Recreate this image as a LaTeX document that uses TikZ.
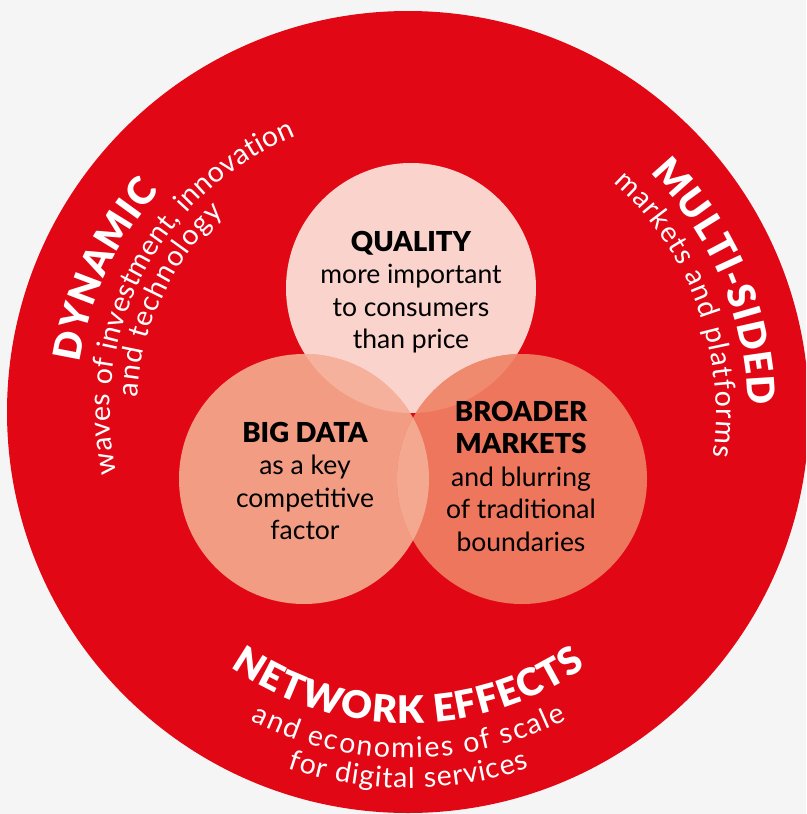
\documentclass[tikz,border=0pt]{standalone}
\usepackage{fontspec}
\setmainfont{Lato}
\newfontfamily\heavyfont{Lato Black}
\usepackage{xcolor}
\usepackage{tikz}
\usetikzlibrary{positioning,decorations.text}
\definecolor{paper}{HTML}{F5F5F5}
\definecolor{mainred}{HTML}{E20714}
\definecolor{qualfill}{HTML}{F9D3CC}
\definecolor{datafill}{HTML}{F29C84}
\definecolor{mktfill}{HTML}{EE765D}
\definecolor{qdfill}{HTML}{F5B19B}
\definecolor{qmfill}{HTML}{F08A6E}
\definecolor{dmfill}{HTML}{F5A890}
\newcommand\circhead{\fontsize{27.5}{32}\selectfont\heavyfont}
\newcommand\archead{\fontsize{38}{38}\selectfont\heavyfont\color{white}\kern1.2pt}
\newcommand\arcsub[1]{\fontsize{28.5}{28.5}\selectfont\color{white}\kern#1}
\tikzset{
  bubble/.style={circle, minimum size=250pt, inner sep=0pt, outer sep=0pt},
  bubtext/.style={align=center, text=black, font=\fontsize{26.5}{32.5}\selectfont},
  arctext/.style={decorate, decoration={text along path, text align=center,
  text={#1}}}
}

\begin{document}
\begin{tikzpicture}[x=1pt,y=1pt]
	\useasboundingbox (0,0) rectangle (806,-814);
	\fill[paper] (0,0) rectangle (806,-814);
	\clip (0,0) rectangle (806,-814);
	\coordinate (C) at (408,-412);
	\fill[mainred] (C) circle[radius=401];

	\node (Q) [bubble,fill=qualfill] at (411,-288) {};
	\node (D) [bubble,fill=datafill] at (304,-479) {};
	\node (M) [bubble,fill=mktfill] at (522,-479) {};
	\begin{scope}
		\clip (Q) circle[radius=125];
		\fill[qdfill] (D) circle[radius=125];
		\fill[qmfill] (M) circle[radius=125];
	\end{scope}
	\begin{scope}
		\clip (D) circle[radius=125];
		\fill[dmfill] (M) circle[radius=125];
	\end{scope}

	\node (Qtxt) [bubtext] at (411,-292) {{\circhead QUALITY}\\more important\\to consumers\\than price};
	\node (Dtxt) [bubtext] at (305,-481) {{\circhead BIG DATA}\\as a key\\competitive\\factor};
	\node (Mtxt) [bubtext] at (521,-476) {{\circhead BROADER}\\{\circhead MARKETS}\\and blurring\\of traditional\\boundaries};

	\path[arctext={|\archead|DYNAMIC}] (C) ++(235:332) arc[start angle=235, end angle=75, radius=332];
	\path[arctext={|\arcsub{0.3pt}|waves of investment{,} innovation}] (C) ++(232:298) arc[start angle=232, end angle=72, radius=298];
	\path[arctext={|\arcsub{1.2pt}|and technology}] (C) ++(235:271) arc[start angle=235, end angle=75, radius=271];

	\path[arctext={|\archead|MULTI-SIDED}] (C) ++(103:340) arc[start angle=103, end angle=-57, radius=340];
	\path[arctext={|\arcsub{1.2pt}|markets and platforms}] (C) ++(100:308) arc[start angle=100, end angle=-60, radius=308];

	\path[arctext={|\archead|NETWORK EFFECTS}] (C) ++(190:311) arc[start angle=190, end angle=350, radius=311];
	\path[arctext={|\arcsub{1.8pt}|and economies of scale}] (C) ++(190:346) arc[start angle=190, end angle=350, radius=346];
	\path[arctext={|\arcsub{1pt}|for digital services}] (C) ++(190:376) arc[start angle=190, end angle=350, radius=376];
\end{tikzpicture}
\end{document}
